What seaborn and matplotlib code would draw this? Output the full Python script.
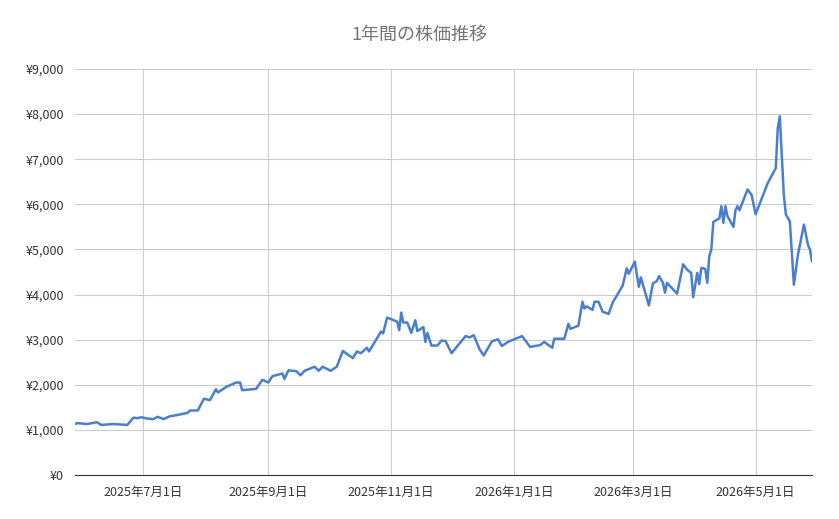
import matplotlib

matplotlib.use("Agg")
import matplotlib.pyplot as plt  # noqa: E402
import matplotlib.dates as mdates  # noqa: E402
import matplotlib.ticker as mticker  # noqa: E402
import pandas as pd  # noqa: E402
import seaborn as sns  # noqa: E402

sns.set_style("white")
plt.rcParams["font.family"] = ["Noto Sans CJK JP", "DejaVu Sans"]

# 開始日からの日数と終値
start_date = "2025-05-28"
days = [0, 1, 6, 11, 13, 19, 26, 29, 31, 33, 36, 39, 41, 44, 47, 52, 56, 57, 61, 64,
        67, 70, 71, 75, 80, 82, 83, 90, 93, 96, 98, 103, 104, 106, 110, 112, 114, 119,
        121, 123, 127, 130, 133, 138, 140, 142, 145, 146, 147, 152, 153, 155, 160, 161,
        162, 163, 165, 167, 169, 170, 173, 174, 175, 177, 180, 182, 184, 187, 189, 194,
        196, 198, 201, 203, 207, 210, 212, 215, 222, 226, 231, 233, 237, 238, 243, 245,
        246, 250, 252, 253, 254, 257, 258, 260, 262, 265, 267, 272, 274, 275, 278, 280,
        281, 285, 287, 289, 290, 292, 293, 294, 299, 302, 304, 306, 307, 309, 310, 311,
        313, 314, 315, 316, 317, 320, 321, 322, 323, 324, 327, 328, 329, 330, 334, 336,
        338, 344, 348, 349, 350, 352, 353, 355, 357, 359, 362, 364, 365, 366]
prices = [1130, 1150, 1130, 1170, 1110, 1130, 1110, 1270, 1260, 1280, 1250, 1240, 1290,
          1240, 1300, 1340, 1380, 1430, 1430, 1690, 1660, 1900, 1830, 1950, 2050, 2050,
          1880, 1910, 2110, 2050, 2190, 2250, 2130, 2320, 2300, 2210, 2310, 2400, 2310,
          2400, 2310, 2400, 2750, 2590, 2740, 2700, 2820, 2740, 2810, 3180, 3140, 3490,
          3400, 3210, 3600, 3380, 3380, 3150, 3430, 3190, 3280, 2950, 3150, 2870, 2870,
          2980, 2970, 2700, 2810, 3080, 3050, 3100, 2780, 2650, 2960, 3010, 2860, 2950,
          3080, 2840, 2880, 2950, 2820, 3020, 3020, 3350, 3240, 3310, 3840, 3690, 3740,
          3660, 3840, 3840, 3620, 3570, 3820, 4200, 4580, 4460, 4730, 4170, 4380, 3760,
          4250, 4300, 4410, 4260, 4040, 4260, 4020, 4670, 4550, 4480, 3940, 4480, 4230,
          4590, 4570, 4260, 4850, 5000, 5610, 5690, 5960, 5590, 5960, 5740, 5500, 5870,
          5960, 5870, 6330, 6210, 5780, 6470, 6800, 7690, 7950, 6210, 5780, 5620, 4220,
          4880, 5550, 5100, 5000, 4730]
tick_dates = ["2025-07-01", "2025-09-01", "2025-11-01", "2026-01-01", "2026-03-01", "2026-05-01"]

df = pd.DataFrame({
    "日付": pd.Timestamp(start_date) + pd.to_timedelta(days, unit="D"),
    "株価": prices,
})

fig = plt.figure(figsize=(8.39, 5.19), dpi=100)
ax = fig.add_axes([75 / 839, 44 / 519, 737 / 839, 406 / 519])
sns.lineplot(data=df, x="日付", y="株価", ax=ax, color="#4a7fd0", linewidth=1.8)

ax.set_xlim(df["日付"].iloc[0], df["日付"].iloc[-1])
ax.set_ylim(0, 9000)
ax.yaxis.set_major_locator(mticker.MultipleLocator(1000))
ax.yaxis.set_major_formatter(mticker.FuncFormatter(lambda v, _: f"¥{v:,.0f}"))
ticks = pd.to_datetime(tick_dates)
ax.set_xticks(ticks)
ax.set_xticklabels([f"{t.year}年{t.month}月{t.day}日" for t in ticks])
ax.grid(True, color="#cccccc", linewidth=0.8)
ax.tick_params(length=0, labelsize=9, colors="#333333", pad=8)
for side in ["top", "right", "left"]:
    ax.spines[side].set_visible(False)
ax.spines["bottom"].set_color("#333333")
ax.set_xlabel("")
ax.set_ylabel("")
fig.suptitle("1年間の株価推移", y=0.95, fontsize=13, color="#757575")

fig.savefig("out.png", dpi=100)
